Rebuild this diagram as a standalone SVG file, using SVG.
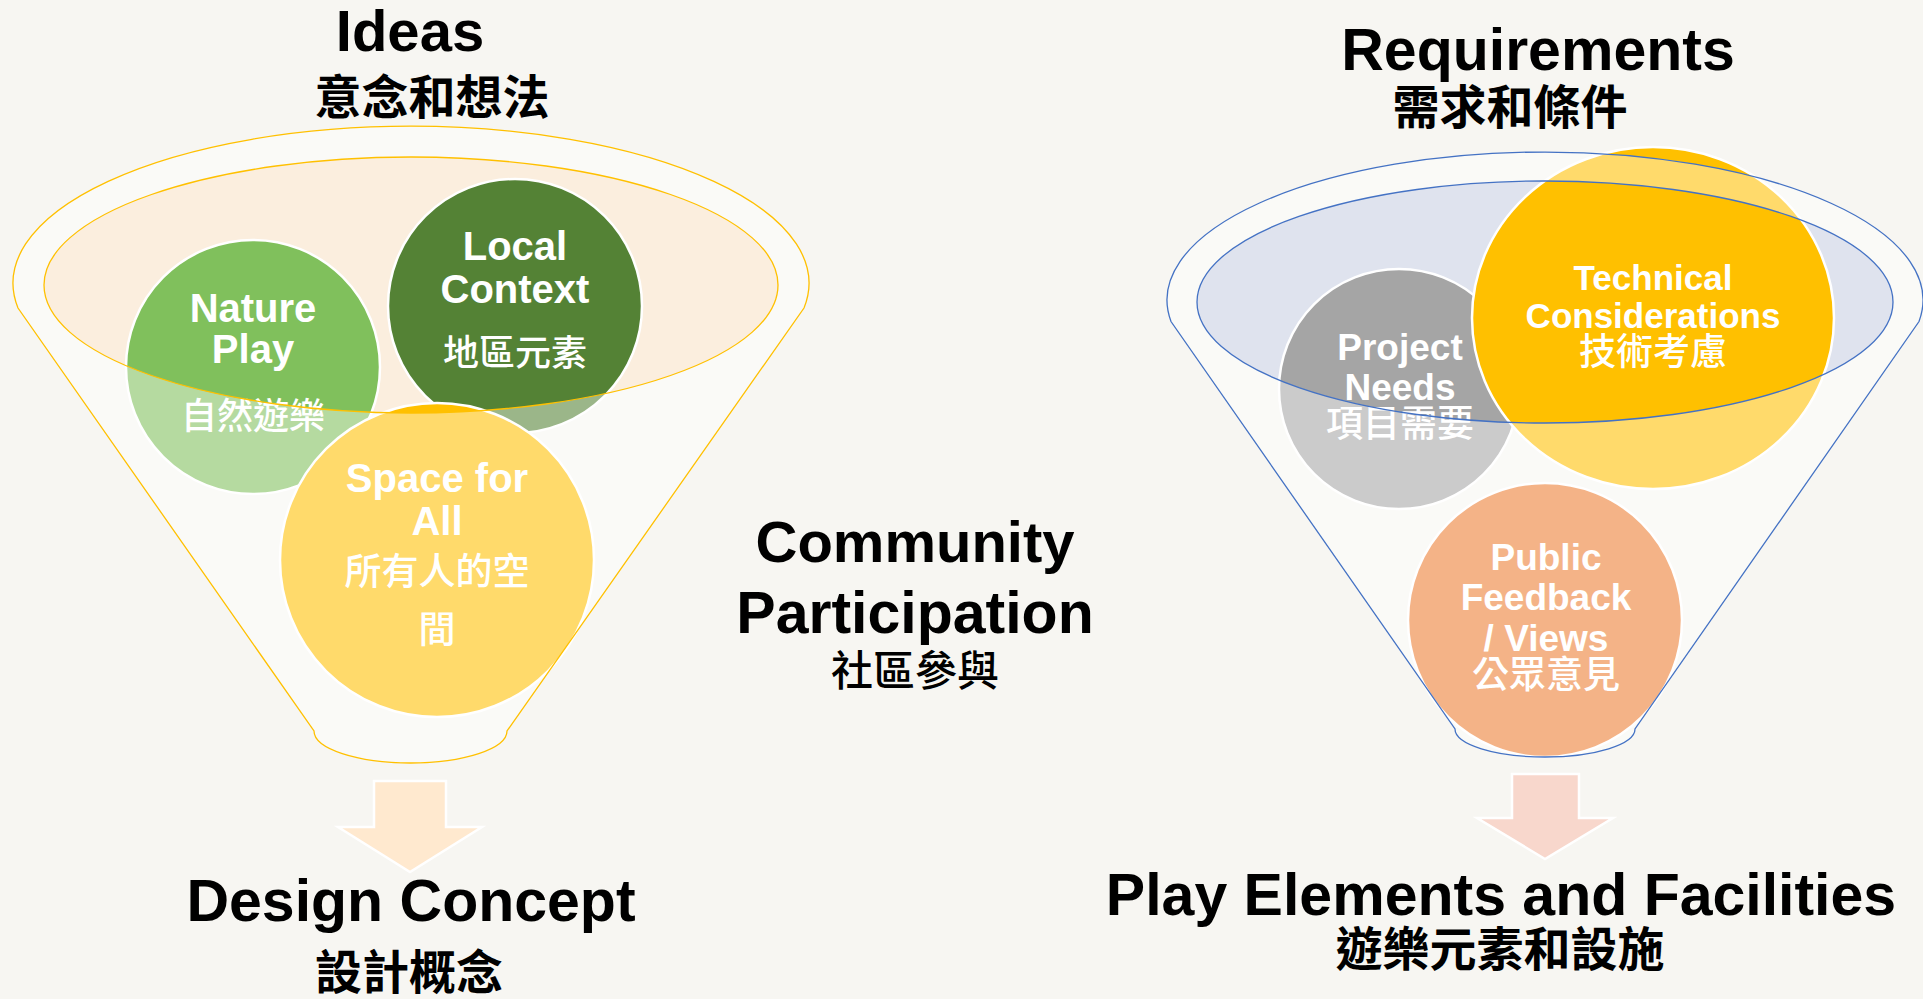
<svg xmlns="http://www.w3.org/2000/svg" width="1923" height="999" viewBox="0 0 1923 999">
<style>
.title{font-family:"Liberation Sans",Arial,sans-serif;font-weight:bold;fill:#000;text-anchor:middle}
.cjk{font-family:"Noto Sans CJK TC","Noto Sans CJK SC",sans-serif;font-weight:bold;fill:#000;text-anchor:middle}
.cjkm{font-family:"Noto Sans CJK TC","Noto Sans CJK SC",sans-serif;font-weight:500;fill:#000;text-anchor:middle}
.ct{font-family:"Liberation Sans",Arial,sans-serif;font-weight:bold;fill:#fff;text-anchor:middle}
.cc{font-family:"Noto Sans CJK TC","Noto Sans CJK SC",sans-serif;font-weight:500;fill:#fff;text-anchor:middle}
.circ{stroke:#fff;stroke-width:2.5}
.veil{fill:#fff;fill-opacity:0.42;fill-rule:evenodd}
.gold{fill:none;stroke:#ffc000;stroke-width:1.3}
.blue{fill:none;stroke:#4472c4;stroke-width:1.3}
.arrow{stroke:#fff;stroke-width:2.5}
</style>
<rect width="1923" height="999" fill="#f7f6f2"/>

<!-- left funnel -->
<g id="funnel-ideas">
<ellipse cx="411" cy="285" rx="367" ry="128" fill="#fbeede"/>
</g>
<g id="node-nature-play">
<circle class="circ" cx="253" cy="367" r="127" fill="#80c05c"/>
<text class="ct" x="253" y="322" font-size="40">Nature</text>
<text class="ct" x="253" y="363" font-size="40">Play</text>
<text class="cc" x="253" y="429" font-size="36">自然遊樂</text>
</g>
<g id="node-local-context">
<circle class="circ" cx="515" cy="306" r="127" fill="#548235"/>
<text class="ct" x="515" y="260" font-size="40">Local</text>
<text class="ct" x="515" y="303" font-size="40">Context</text>
<text class="cc" x="515" y="366" font-size="36">地區元素</text>
</g>
<g id="node-space-for-all">
<circle class="circ" cx="437" cy="560" r="157" fill="#ffc000"/>
<text class="ct" x="437" y="492" font-size="40">Space for</text>
<text class="ct" x="437" y="535" font-size="40">All</text>
<text class="cc" x="437" y="585" font-size="37">所有人的空</text>
<text class="cc" x="437" y="643" font-size="37">間</text>
</g>
<g id="funnel-ideas-body">
<path class="veil" d="M18 308 A398 157 0 1 1 804 308 L507 731 A96.5 32 0 0 1 314 731 Z M44 285 A367 128 0 1 0 778 285 A367 128 0 1 0 44 285 Z"/>
<path class="gold" d="M18 308 A398 157 0 1 1 804 308 L507 731 A96.5 32 0 0 1 314 731 Z"/>
<ellipse class="gold" cx="411" cy="285" rx="367" ry="128"/>
</g>

<!-- right funnel -->
<g id="funnel-requirements">
<ellipse cx="1545" cy="302" rx="348" ry="121" fill="#dfe3ee"/>
</g>
<g id="node-project-needs">
<circle class="circ" cx="1399" cy="389" r="120" fill="#a5a5a5"/>
<text class="ct" x="1400" y="360" font-size="37">Project</text>
<text class="ct" x="1400" y="400" font-size="37">Needs</text>
<text class="cc" x="1400" y="437" font-size="37">項目需要</text>
</g>
<g id="node-technical">
<ellipse class="circ" cx="1653" cy="318" rx="181" ry="171" fill="#ffc000"/>
<text class="ct" x="1653" y="290" font-size="35">Technical</text>
<text class="ct" x="1653" y="328" font-size="35">Considerations</text>
<text class="cc" x="1653" y="365" font-size="37">技術考慮</text>
</g>
<g id="node-public-feedback">
<circle class="circ" cx="1545" cy="620" r="137" fill="#ed7d31"/>
<text class="ct" x="1546" y="570" font-size="37">Public</text>
<text class="ct" x="1546" y="610" font-size="37">Feedback</text>
<text class="ct" x="1546" y="651" font-size="37">/ Views</text>
<text class="cc" x="1546" y="688" font-size="37">公眾意見</text>
</g>
<g id="funnel-requirements-body">
<path class="veil" d="M1171 321.5 A378 148 0 1 1 1919 321.5 L1635 729 A90 28 0 0 1 1455 729 Z M1197 302 A348 121 0 1 0 1893 302 A348 121 0 1 0 1197 302 Z"/>
<path class="blue" d="M1171 321.5 A378 148 0 1 1 1919 321.5 L1635 729 A90 28 0 0 1 1455 729 Z"/>
<ellipse class="blue" cx="1545" cy="302" rx="348" ry="121"/>
</g>

<!-- connectors (block arrows) -->
<g id="connectors">
<polygon class="arrow" fill="#ffe9cf" points="374,781 446,781 446,827 482,827 410,872 338,827 374,827"/>
<polygon class="arrow" fill="#f8d7cc" points="1512,774 1579,774 1579,818 1613,818 1545,859 1477,818 1512,818"/>
</g>

<!-- titles -->
<g id="title-ideas">
<text class="title" x="410" y="51" font-size="58">Ideas</text>
<text class="cjk" x="432" y="114" font-size="47">意念和想法</text>
</g>
<g id="title-design-concept">
<text class="title" x="411" y="921" font-size="59">Design Concept</text>
<text class="cjk" x="409" y="989" font-size="47">設計概念</text>
</g>
<g id="title-community">
<text class="title" x="915" y="562" font-size="58">Community</text>
<text class="title" x="915" y="633" font-size="59">Participation</text>
<text class="cjkm" x="915" y="686" font-size="42">社區參與</text>
</g>
<g id="title-requirements">
<text class="title" x="1538" y="70" font-size="59">Requirements</text>
<text class="cjk" x="1510" y="124" font-size="47">需求和條件</text>
</g>
<g id="title-play-elements">
<text class="title" x="1501" y="915" font-size="59">Play Elements and Facilities</text>
<text class="cjk" x="1500" y="966" font-size="47">遊樂元素和設施</text>
</g>
</svg>
